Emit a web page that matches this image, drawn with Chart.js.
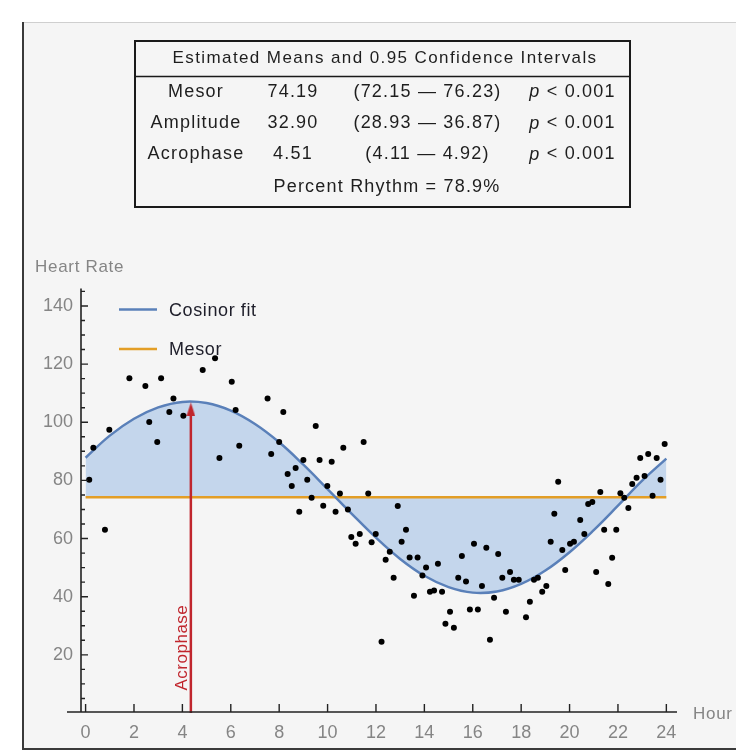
<!DOCTYPE html>
<html lang="en">
<head>
    <meta charset="UTF-8">
    <title>Heart Rate Cosinor Fit</title>
    <style>
        body {
            margin: 0;
            background: #fff;
        }
        #chart {
            display: block;
        }
    </style>
    <script src="https://cdn.jsdelivr.net/npm/chart.js"></script>
</head>
<body>
    <canvas id="chart" width="736" height="753"></canvas>

    <script>
        // Observed heart rate (hour of day, beats per minute)
        const hours = [
            0.15, 0.32, 0.80, 0.98, 1.81, 2.47, 2.63, 2.96, 3.12, 3.46, 3.63, 4.04,
            4.84, 5.35, 5.53, 6.04, 6.20, 6.35, 7.52, 7.67, 8.00, 8.17, 8.35, 8.52,
            8.68, 8.83, 9.00, 9.16, 9.34, 9.51, 9.67, 9.82, 9.99, 10.17, 10.33, 10.51,
            10.65, 10.84, 10.98, 11.16, 11.33, 11.49, 11.68, 11.82, 11.99, 12.23, 12.40, 12.57,
            12.73, 12.90, 13.06, 13.24, 13.39, 13.57, 13.72, 13.92, 14.07, 14.23, 14.40, 14.56,
            14.73, 14.87, 15.06, 15.22, 15.40, 15.55, 15.72, 15.88, 16.05, 16.21, 16.38, 16.56,
            16.71, 16.88, 17.05, 17.22, 17.37, 17.54, 17.70, 17.90, 18.20, 18.36, 18.53, 18.69,
            18.87, 19.04, 19.22, 19.37, 19.53, 19.70, 19.82, 20.02, 20.18, 20.44, 20.61, 20.77,
            20.94, 21.10, 21.27, 21.43, 21.60, 21.76, 21.93, 22.10, 22.26, 22.43, 22.59, 22.77,
            22.92, 23.10, 23.25, 23.43, 23.60, 23.76, 23.93
        ];
        const heartRate = [
            80.2, 91.2, 63.0, 97.4, 115.1, 112.5, 100.1, 93.2, 115.1, 103.5, 108.2, 102.2,
            118.0, 122.0, 87.7, 113.9, 104.2, 91.9, 108.2, 89.1, 93.2, 103.5, 82.2, 78.1,
            84.3, 69.2, 87.0, 80.2, 74.0, 98.7, 87.0, 71.3, 78.1, 86.4, 69.2, 75.5,
            91.2, 70.0, 60.5, 58.2, 61.6, 93.2, 75.5, 58.7, 61.6, 24.5, 52.7, 55.5,
            46.5, 71.2, 58.9, 63.0, 53.5, 40.3, 53.5, 47.3, 50.0, 41.7, 42.1, 51.3,
            41.7, 30.7, 34.8, 29.3, 46.5, 54.0, 45.2, 35.6, 58.2, 35.6, 43.7, 56.8,
            25.2, 39.6, 54.7, 46.5, 34.8, 48.5, 45.8, 45.8, 32.9, 38.3, 45.8, 46.5,
            41.7, 43.7, 58.9, 68.5, 79.5, 56.1, 49.2, 58.2, 58.9, 66.4, 61.6, 71.9,
            72.6, 48.5, 76.0, 63.0, 44.4, 53.4, 63.0, 75.6, 74.0, 70.5, 78.8, 80.9,
            87.7, 81.5, 89.1, 74.7, 87.7, 80.2, 92.5
        ];

        // Cosinor fit at every hour
        const fitHours = [0, 1, 2, 3, 4, 5, 6, 7, 8, 9, 10, 11, 12, 13, 14, 15, 16, 17, 18, 19, 20, 21, 22, 23, 24];
        const fitValues = [
            87.8, 95.4, 101.2, 105.1, 107.0, 106.6, 104.0, 99.4, 93.1, 85.4, 77.0, 68.5,
            60.3, 53.0, 47.2, 43.3, 41.4, 41.8, 44.4, 49.0, 55.3, 62.9, 71.3, 79.9, 87.5
        ];

        const mesor = 74.19;
        const mesorHours = [0, 24];
        const acrophaseHour = 4.35;
        const acrophaseTop = 104.4;

        const xTicks = [0, 2, 4, 6, 8, 10, 12, 14, 16, 18, 20, 22, 24];
        const yTicks = [20, 40, 60, 80, 100, 120, 140];
        const yMinorStep = 5;

        const tableTitle = 'Estimated Means and 0.95 Confidence Intervals';
        const tableRows = [
            ['Mesor', '74.19', '(72.15 \u2014 76.23)', '< 0.001'],
            ['Amplitude', '32.90', '(28.93 \u2014 36.87)', '< 0.001'],
            ['Acrophase', '4.51', '(4.11 \u2014 4.92)', '< 0.001']
        ];
        const percentRhythm = 'Percent Rhythm = 78.9%';

        const FONT = "'Liberation Sans', Arial, Helvetica, sans-serif";
        const BLUE = '#5a80b9';
        const FILL = '#c4d6ec';
        const ORANGE = '#e39e26';
        const RED = '#c0262d';
        const LABEL = '#858585';

        // small arrow head used as the point style at the top of the acrophase line
        const arrowHead = document.createElement('canvas');
        arrowHead.width = 9;
        arrowHead.height = 14;
        const ah = arrowHead.getContext('2d');
        ah.fillStyle = RED;
        ah.beginPath();
        ah.moveTo(4.5, 0);
        ah.lineTo(9, 14);
        ah.lineTo(0, 14);
        ah.closePath();
        ah.fill();

        function setFont(ctx, size, style, spacing) {
            ctx.font = (style || '') + ' ' + size + 'px ' + FONT;
            ctx.letterSpacing = (spacing || 0) + 'px';
        }

        const decorations = {
            id: 'decorations',
            beforeDraw(chart) {
                const ctx = chart.ctx;
                ctx.save();
                ctx.fillStyle = '#ffffff';
                ctx.fillRect(0, 0, chart.width, chart.height);
                ctx.fillStyle = '#f5f5f5';
                ctx.fillRect(22, 22, chart.width - 22, 727);
                ctx.strokeStyle = '#cfcfcf';
                ctx.lineWidth = 1;
                ctx.beginPath();
                ctx.moveTo(22, 22.5);
                ctx.lineTo(chart.width, 22.5);
                ctx.stroke();
                ctx.strokeStyle = '#3a3a3a';
                ctx.lineWidth = 2;
                ctx.beginPath();
                ctx.moveTo(23, 22);
                ctx.lineTo(23, 749);
                ctx.lineTo(chart.width, 749);
                ctx.stroke();
                ctx.restore();
            },
            beforeDatasetsDraw(chart) {
                // legend
                const ctx = chart.ctx;
                ctx.save();
                ctx.lineWidth = 2.5;
                ctx.strokeStyle = BLUE;
                ctx.beginPath();
                ctx.moveTo(119, 309.5);
                ctx.lineTo(157, 309.5);
                ctx.stroke();
                ctx.strokeStyle = ORANGE;
                ctx.beginPath();
                ctx.moveTo(119, 349);
                ctx.lineTo(157, 349);
                ctx.stroke();
                setFont(ctx, 18, '', 0.6);
                ctx.fillStyle = '#1e1e2a';
                ctx.textAlign = 'left';
                ctx.textBaseline = 'middle';
                ctx.fillText('Cosinor fit', 169, 311);
                ctx.fillText('Mesor', 169, 350);
                ctx.restore();
            },
            afterDatasetsDraw(chart) {
                const ctx = chart.ctx;
                const xa = chart.scales.x;
                const ya = chart.scales.y;
                const left = xa.left;
                const bottom = ya.getPixelForValue(0) - 1;
                ctx.save();
                ctx.strokeStyle = '#222';
                ctx.lineWidth = 1.6;
                ctx.beginPath();
                ctx.moveTo(left, ya.top);
                ctx.lineTo(left, bottom);
                ctx.moveTo(left - 14, bottom);
                ctx.lineTo(xa.right, bottom);
                ctx.stroke();

                ctx.lineWidth = 1.4;
                ctx.beginPath();
                xTicks.forEach(v => {
                    const px = xa.getPixelForValue(v);
                    ctx.moveTo(px, bottom);
                    ctx.lineTo(px, bottom - 8);
                });
                for (let v = yMinorStep; v < ya.max; v += yMinorStep) {
                    const py = ya.getPixelForValue(v);
                    const len = yTicks.includes(v) ? 7 : 4;
                    ctx.moveTo(left, py);
                    ctx.lineTo(left + len, py);
                }
                ctx.stroke();

                // acrophase label beside the arrow
                ctx.save();
                ctx.translate(xa.getPixelForValue(acrophaseHour) - 9, ya.getPixelForValue(22.5));
                ctx.rotate(-Math.PI / 2);
                setFont(ctx, 17, '', 0.5);
                ctx.fillStyle = RED;
                ctx.textAlign = 'center';
                ctx.textBaseline = 'middle';
                ctx.fillText('Acrophase', 0, 0);
                ctx.restore();

                // axis names
                setFont(ctx, 17, '', 0.7);
                ctx.fillStyle = LABEL;
                ctx.textAlign = 'left';
                ctx.textBaseline = 'middle';
                ctx.fillText('Heart Rate', 35, 267);
                ctx.fillText('Hour', 693, 714);
                ctx.restore();
            },
            afterDraw(chart) {
                // parameter table
                const ctx = chart.ctx;
                const cols = [196, 293, 427.5];
                const rowY = [92, 123.5, 154.5];
                ctx.save();
                ctx.strokeStyle = '#1a1a1a';
                ctx.lineWidth = 2;
                ctx.strokeRect(135, 41, 495, 166);
                ctx.lineWidth = 1.5;
                ctx.beginPath();
                ctx.moveTo(135, 76.5);
                ctx.lineTo(630, 76.5);
                ctx.stroke();

                ctx.fillStyle = '#1e1e1e';
                ctx.textBaseline = 'middle';
                ctx.textAlign = 'center';
                setFont(ctx, 17, '', 1.4);
                ctx.fillText(tableTitle, 385, 58);

                setFont(ctx, 18, '', 1.2);
                tableRows.forEach((row, i) => {
                    ctx.textAlign = 'center';
                    for (let c = 0; c < 3; c++) {
                        ctx.fillText(row[c], cols[c], rowY[i]);
                    }
                    // italic p followed by the value
                    setFont(ctx, 18, 'italic', 1.2);
                    const pw = ctx.measureText('p ').width;
                    setFont(ctx, 18, '', 1.2);
                    const rw = ctx.measureText(row[3]).width;
                    const start = 572.5 - (pw + rw) / 2;
                    ctx.textAlign = 'left';
                    setFont(ctx, 18, 'italic', 1.2);
                    ctx.fillText('p', start, rowY[i]);
                    setFont(ctx, 18, '', 1.2);
                    ctx.fillText(row[3], start + pw, rowY[i]);
                });
                ctx.textAlign = 'center';
                ctx.fillText(percentRhythm, 387, 187);
                ctx.restore();
            }
        };

        const points = hours.map((h, i) => ({ x: h, y: heartRate[i] }));
        const fitLine = fitHours.map((h, i) => ({ x: h, y: fitValues[i] }));
        const mesorLine = mesorHours.map(h => ({ x: h, y: mesor }));
        const arrowLine = [{ x: acrophaseHour, y: 0 }, { x: acrophaseHour, y: acrophaseTop }];

        const ctx = document.getElementById('chart').getContext('2d');
        const chart = new Chart(ctx, {
            type: 'scatter',
            data: {
                datasets: [
                    {
                        label: 'Heart rate',
                        data: points,
                        backgroundColor: '#000',
                        borderWidth: 0,
                        pointRadius: 3,
                        order: 0
                    },
                    {
                        label: 'Acrophase',
                        data: arrowLine,
                        showLine: true,
                        borderColor: RED,
                        borderWidth: 2.5,
                        pointRadius: [0, 5],
                        pointStyle: c => c.dataIndex === 1 ? arrowHead : 'circle',
                        order: 1
                    },
                    {
                        label: 'Cosinor fit',
                        data: fitLine,
                        showLine: true,
                        borderColor: BLUE,
                        borderWidth: 2.5,
                        backgroundColor: FILL,
                        fill: { value: mesor },
                        tension: 0.4,
                        pointRadius: 0,
                        order: 2
                    },
                    {
                        label: 'Mesor',
                        data: mesorLine,
                        showLine: true,
                        borderColor: ORANGE,
                        borderWidth: 2.5,
                        pointRadius: 0,
                        order: 3
                    }
                ]
            },
            options: {
                responsive: false,
                animation: false,
                layout: {
                    padding: { top: 288.5, right: 59, bottom: 0, left: 0 }
                },
                plugins: {
                    legend: { display: false },
                    tooltip: { enabled: false },
                    filler: { drawTime: 'beforeDatasetsDraw' }
                },
                scales: {
                    x: {
                        type: 'linear',
                        min: -0.19,
                        max: 24.44,
                        bounds: 'data',
                        grid: { display: false, drawTicks: false },
                        border: { display: false },
                        afterFit: s => { s.height = 40; },
                        afterBuildTicks: s => { s.ticks = xTicks.map(v => ({ value: v })); },
                        ticks: {
                            color: LABEL,
                            font: { size: 18, family: FONT },
                            padding: 9,
                            maxRotation: 0,
                            autoSkip: false
                        }
                    },
                    y: {
                        type: 'linear',
                        min: 0,
                        max: 146,
                        bounds: 'data',
                        grid: { display: false, drawTicks: false },
                        border: { display: false },
                        afterFit: s => { s.width = 81; },
                        afterBuildTicks: s => { s.ticks = yTicks.map(v => ({ value: v })); },
                        ticks: {
                            color: LABEL,
                            font: { size: 18, family: FONT },
                            padding: 8,
                            autoSkip: false
                        }
                    }
                }
            },
            plugins: [decorations]
        });
    </script>
</body>
</html>
